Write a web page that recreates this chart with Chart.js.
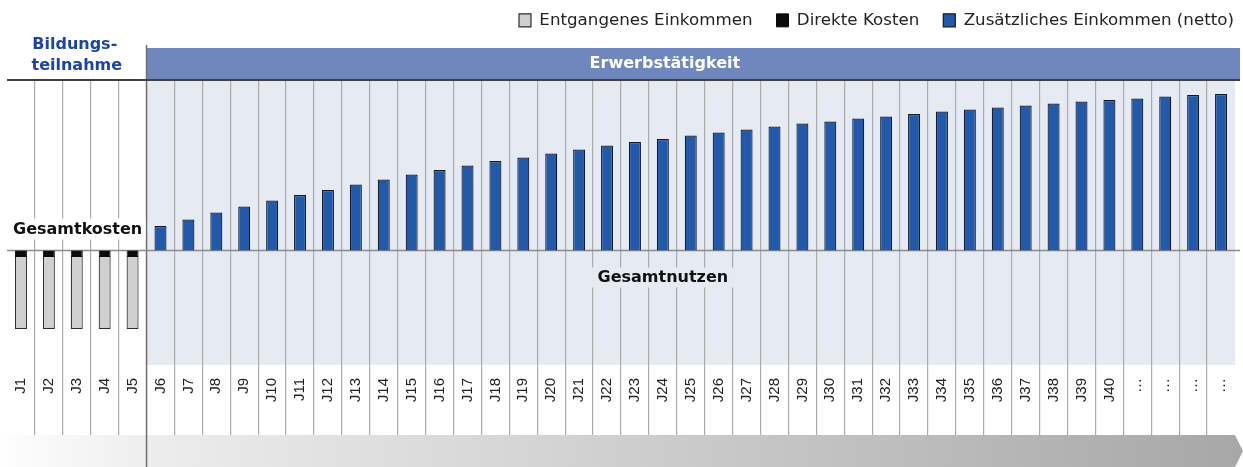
<!doctype html>
<html>
<head>
<meta charset="UTF-8">
<title>Bildungsrendite</title>
<script src="https://cdn.jsdelivr.net/npm/chart.js@4/dist/chart.umd.min.js"></script>
<style>
  body { margin: 0; background: #fff; }
  #holder { width: 1243px; height: 467px; position: relative; }
</style>
</head>
<body>
<div id="holder"><canvas id="chart-area"></canvas></div>
<script>
    // Jahre (Spalten)
    var jahre = ['J1', 'J2', 'J3', 'J4', 'J5', 'J6', 'J7', 'J8', 'J9', 'J10',
        'J11', 'J12', 'J13', 'J14', 'J15', 'J16', 'J17', 'J18', 'J19', 'J20',
        'J21', 'J22', 'J23', 'J24', 'J25', 'J26', 'J27', 'J28', 'J29', 'J30',
        'J31', 'J32', 'J33', 'J34', 'J35', 'J36', 'J37', 'J38', 'J39', 'J40',
        '…', '…', '…', '…'];
    var bildungsJahre = 5;

    // Kosten (negativ) und Nutzen (positiv)
    var direkteKosten = [-6.5, -6.5, -6.5, -6.5, -6.5];
    var entgangenesEinkommen = [-72, -72, -72, -72, -72];
    var zusaetzlichesEinkommen = [null, null, null, null, null,
        24.5, 31, 38, 44, 50, 55.5, 60.5, 66, 71, 76,
        80.5, 85, 89.5, 93, 97, 101, 105, 108.5, 111.5, 115,
        118, 121, 124, 127, 129, 132, 134, 136.5, 139, 141,
        143, 145, 147, 149, 150.5, 152, 154, 155.5, 156.5];

    var legendeReihenfolge = ['Entgangenes Einkommen', 'Direkte Kosten', 'Zusätzliches Einkommen (netto)'];

    var schrift = '"DejaVu Sans", sans-serif';

    var deko = {
        id: 'deko',
        afterInit: function (chart) {
            var lg = chart.legend;
            var fit = lg.fit, draw = lg.draw;
            lg.fit = function () {
                fit.call(this);
                this.height = 80;
            };
            lg.draw = function () {
                var c = this.ctx;
                c.save();
                c.translate(23, -12);
                draw.call(this);
                c.restore();
            };
        },
        beforeDraw: function (chart) {
            var ctx = chart.ctx, area = chart.chartArea, x = chart.scales.x;
            var w = x.getPixelForValue(1) - x.getPixelForValue(0);
            var grenze = x.getPixelForValue(bildungsJahre) - w / 2;
            ctx.save();
            // hellblauer Hintergrund Erwerbsphase
            ctx.fillStyle = '#e6eaf2';
            ctx.fillRect(grenze, area.top, area.right - grenze, area.bottom - area.top);
            // Kopfband
            ctx.fillStyle = '#7087bd';
            ctx.fillRect(grenze, 48, area.right + 5 - grenze, area.top - 48);
            // Zeitpfeil unten
            var yb = area.bottom + 70, h = chart.height - yb;
            var g1 = ctx.createLinearGradient(area.left, 0, grenze, 0);
            g1.addColorStop(0, '#fdfdfd');
            g1.addColorStop(1, '#eeeeee');
            ctx.fillStyle = g1;
            ctx.fillRect(area.left, yb, grenze - area.left, h);
            var g2 = ctx.createLinearGradient(grenze, 0, chart.width, 0);
            g2.addColorStop(0, '#ecedec');
            g2.addColorStop(1, '#a6a7a6');
            ctx.fillStyle = g2;
            ctx.beginPath();
            ctx.moveTo(grenze, yb);
            ctx.lineTo(area.right, yb);
            ctx.lineTo(chart.width, yb + h / 2);
            ctx.lineTo(area.right, chart.height);
            ctx.lineTo(grenze, chart.height);
            ctx.closePath();
            ctx.fill();
            ctx.restore();
        },
        beforeDatasetsDraw: function (chart) {
            var ctx = chart.ctx, area = chart.chartArea, x = chart.scales.x, y = chart.scales.y;
            var w = x.getPixelForValue(1) - x.getPixelForValue(0);
            var grenze = x.getPixelForValue(bildungsJahre) - w / 2;
            var null0 = y.getPixelForValue(0);
            ctx.save();
            // Trennlinie Bildung / Erwerb
            ctx.strokeStyle = '#6e6e6e';
            ctx.lineWidth = 1.5;
            ctx.beginPath();
            ctx.moveTo(grenze, 45);
            ctx.lineTo(grenze, chart.height);
            ctx.stroke();
            // obere Linie
            ctx.strokeStyle = '#3f3f3f';
            ctx.lineWidth = 2;
            ctx.beginPath();
            ctx.moveTo(area.left, area.top);
            ctx.lineTo(area.right + 5, area.top);
            ctx.stroke();
            // Nulllinie
            ctx.strokeStyle = '#8a8a8a';
            ctx.lineWidth = 1.5;
            ctx.beginPath();
            ctx.moveTo(area.left, null0);
            ctx.lineTo(area.right + 5, null0);
            ctx.stroke();

            ctx.font = 'bold 16px ' + schrift;
            ctx.textBaseline = 'middle';
            // Gesamtkosten
            ctx.fillStyle = '#ffffff';
            ctx.fillRect(area.left + 3, null0 - 32, grenze - area.left - 4, 21);
            ctx.fillStyle = '#111';
            ctx.textAlign = 'left';
            ctx.fillText('Gesamtkosten', area.left + 6, null0 - 21);
            // Gesamtnutzen
            var mitte = x.getPixelForValue(23);
            ctx.fillStyle = '#e6eaf2';
            ctx.fillRect(mitte - 71, null0 + 17, 142, 20);
            ctx.fillStyle = '#111';
            ctx.textAlign = 'center';
            ctx.fillText('Gesamtnutzen', mitte, null0 + 27);
            // Phasen
            ctx.fillStyle = '#ffffff';
            ctx.fillText('Erwerbstätigkeit', mitte + 2, 64);
            ctx.fillStyle = '#1d44a3';
            var bx = (area.left + grenze) / 2;
            ctx.fillText('Bildungs-', bx - 2, 45);
            ctx.fillText('teilnahme', bx, 66);
            ctx.restore();
        }
    };

    var config = {
        type: 'bar',
        data: {
            labels: jahre,
            datasets: [
                {
                    label: 'Direkte Kosten',
                    data: direkteKosten,
                    backgroundColor: '#0b0b0b',
                    borderColor: '#0b0b0b',
                    borderWidth: 1
                },
                {
                    label: 'Entgangenes Einkommen',
                    data: entgangenesEinkommen,
                    backgroundColor: '#d0d1cf',
                    borderColor: '#2e2e2e',
                    borderWidth: 1.2
                },
                {
                    label: 'Zusätzliches Einkommen (netto)',
                    data: zusaetzlichesEinkommen,
                    backgroundColor: '#2359ab',
                    borderColor: '#111a2a',
                    borderWidth: 1.2
                }
            ]
        },
        options: {
            responsive: true,
            maintainAspectRatio: false,
            animation: false,
            layout: { padding: { left: 7, right: 8, top: 0, bottom: 0 } },
            datasets: {
                bar: { barPercentage: 0.43, categoryPercentage: 1 }
            },
            scales: {
                x: {
                    stacked: true,
                    border: { display: false },
                    grid: {
                        offset: true,
                        lineWidth: 1.2,
                        tickLength: 70,
                        color: function (c) {
                            return (!(c.index > 0) || c.index === bildungsJahre) ? 'rgba(0,0,0,0)' : '#ababab';
                        }
                    },
                    ticks: {
                        autoSkip: false,
                        minRotation: 90,
                        maxRotation: 90,
                        padding: -57,
                        color: '#222',
                        font: { family: '"Liberation Sans", Arial, sans-serif', size: 15 }
                    },
                    afterFit: function (s) { s.height = 102; }
                },
                y: {
                    stacked: true,
                    display: false,
                    min: -114.5,
                    max: 170.5
                }
            },
            plugins: {
                legend: {
                    position: 'top',
                    align: 'end',
                    labels: {
                        boxWidth: 12,
                        boxHeight: 13,
                        padding: 24,
                        color: '#222',
                        font: { family: schrift, size: 16.7 },
                        sort: function (a, b) {
                            return legendeReihenfolge.indexOf(a.text) - legendeReihenfolge.indexOf(b.text);
                        }
                    }
                },
                tooltip: { enabled: false }
            }
        },
        plugins: [deko]
    };

    var ctx = document.getElementById('chart-area').getContext('2d');
    window.myBar = new Chart(ctx, config);
</script>
</body>
</html>
